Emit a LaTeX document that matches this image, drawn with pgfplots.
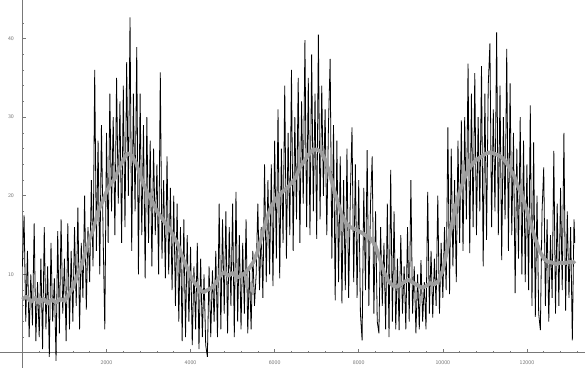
\documentclass[border=0pt]{standalone}
\usepackage{pgfplots}
\pgfplotsset{compat=1.18}
\definecolor{smoothgray}{RGB}{158,158,158}
\definecolor{axisgray}{RGB}{120,120,120}
\begin{document}
\begin{tikzpicture}
\begin{axis}[
  scale only axis,
  width=585pt, height=368pt,
  xmin=-522, xmax=13371, ymin=-1.9, ymax=44.85,
  axis lines=middle,
  axis line style={-, draw=axisgray, line width=0.9pt},
  tick align=inside,
  major tick length=4pt, minor tick length=2pt,
  every tick/.style={axisgray, line width=0.6pt},
  xtick={2000,4000,6000,8000,10000,12000},
  minor xtick={400,800,...,13200},
  ytick={10,20,30,40},
  minor ytick={2,4,...,42},
  scaled x ticks=false,
  xticklabel style={font=\fontsize{5.5}{6}\selectfont\sffamily, text=black!55, yshift=-4pt, /pgf/number format/1000 sep={}},
  yticklabel style={font=\fontsize{5.5}{6}\selectfont\sffamily, text=black!55, xshift=-5pt},
  /pgf/number format/assume math mode=true,
  clip=true,
]
\addplot[black, line width=0.8pt] coordinates {
(0,11)(40,17.5)(80,4)(120,13)(160,2)(200,10)(240,3.5)(280,16.5)(320,1.5)(360,9)
(400,2)(440,12)(480,0.5)(520,16)(560,3)(600,11)(640,-0.5)(680,14)(720,4)(760,9.5)
(800,-1)(840,15.5)(880,2.5)(920,17)(960,5)(1000,12)(1040,1.5)(1080,16.5)(1120,3)(1160,13)
(1200,4)(1240,16)(1280,6)(1320,18.5)(1360,3)(1400,14)(1440,7)(1480,20)(1520,5.5)(1560,16)
(1600,9)(1640,22)(1680,11)(1720,36)(1760,13)(1800,27)(1840,10)(1880,29)(1920,15)(1960,3)
(2000,28)(2040,14)(2080,33)(2120,18)(2160,30)(2200,15)(2240,35)(2280,19)(2320,32)(2360,14)
(2400,34)(2440,16)(2480,37)(2520,20)(2560,42.7)(2600,13)(2640,33)(2680,18)(2720,38.9)(2760,10)
(2800,33)(2840,15)(2880,29)(2920,9.5)(2960,30)(3000,14)(3040,27)(3080,11)(3120,26)(3160,15)
(3200,24)(3240,10)(3280,35.7)(3320,12)(3360,22)(3400,9.5)(3440,25)(3480,10)(3520,21)(3560,8)
(3600,20)(3640,6)(3680,19)(3720,4)(3760,16)(3800,1.5)(3840,17)(3880,2)(3920,15)(3960,4)
(4000,13.5)(4040,1)(4080,11)(4120,3)(4160,14)(4200,0.5)(4240,12)(4280,2)(4320,10)(4360,1)
(4400,-0.5)(4440,11)(4480,2)(4520,10.5)(4560,4)(4600,13)(4640,2)(4680,19)(4720,3)(4760,17)
(4800,5)(4840,18)(4880,2.5)(4920,16)(4960,6)(5000,19)(5040,2)(5080,20.5)(5120,4)(5160,15)
(5200,3)(5240,14)(5280,5)(5320,17)(5360,2.5)(5400,11)(5440,3)(5480,13)(5520,6)(5560,10)
(5600,19)(5640,8)(5680,16)(5720,7)(5760,24)(5800,9)(5840,22)(5880,10)(5920,24)(5960,8.5)
(6000,27)(6040,12)(6080,31)(6120,9.5)(6160,26)(6200,14)(6240,34)(6280,12)(6320,28)(6360,15)
(6400,36)(6440,13)(6480,30)(6520,17)(6560,35)(6600,14)(6640,32)(6680,19)(6720,39.8)(6760,16)
(6800,35)(6840,15)(6880,38)(6920,18)(6960,33)(7000,14.5)(7040,40.5)(7080,17)(7120,34)(7160,20)
(7200,31)(7240,15)(7280,29)(7320,37.4)(7360,12)(7400,29)(7440,6.7)(7480,27)(7520,9)(7560,25)
(7600,6.3)(7640,22)(7680,8)(7720,26)(7760,7)(7800,20)(7840,28.7)(7880,9)(7920,24)(7960,7)
(8000,22)(8040,5)(8080,1.6)(8120,21)(8160,8)(8200,25.8)(8240,6)(8280,19)(8320,25)(8360,5)
(8400,18)(8440,4)(8480,2.5)(8520,16)(8560,6)(8600,14)(8640,3)(8680,19)(8720,2)(8760,23.3)
(8800,4)(8840,18)(8880,3)(8920,12)(8960,2.9)(9000,15)(9040,5)(9080,11)(9120,3)(9160,16)
(9200,4)(9240,22)(9280,5)(9320,11)(9360,2.5)(9400,10)(9440,3)(9480,11.8)(9520,4)(9560,9)
(9600,3)(9640,20.5)(9680,5)(9720,13)(9760,4.5)(9800,12)(9840,6)(9880,20)(9920,5)(9960,14)
(10000,7)(10040,16)(10080,8)(10120,28.7)(10160,7.5)(10200,26)(10240,11)(10280,22)(10320,9)(10360,27)
(10400,14)(10440,29.6)(10480,13)(10520,30)(10560,17)(10600,36.8)(10640,12.7)(10680,33)(10720,16)(10760,35.6)
(10800,15)(10840,30)(10880,18)(10920,36.5)(10960,11)(11000,33)(11040,14.4)(11080,34)(11120,39.4)(11160,16)
(11200,31)(11240,18)(11280,40.8)(11320,15)(11360,34)(11400,11.8)(11440,30)(11480,17)(11520,38.7)(11560,13)
(11600,34.3)(11640,15)(11680,28)(11720,7.6)(11760,26)(11800,12)(11840,30)(11880,10)(11920,27)(11960,9)
(12000,24)(12040,8)(12080,31.5)(12120,6)(12160,26.8)(12200,4.6)(12240,20)(12280,5)(12320,2.9)(12360,18)
(12400,23.6)(12440,6)(12480,17)(12520,4)(12560,15)(12600,7)(12640,25.7)(12680,5)(12720,19)(12760,6)
(12800,21)(12840,8)(12880,28)(12920,5.4)(12960,18)(13000,7)(13040,16)(13080,1.6)(13120,17)(13140,14)
};
\addplot[draw=smoothgray, line width=3.8pt, line join=round] coordinates {
(0,6.8)(100,7.2)(200,6.5)(300,7.0)(400,6.4)(500,6.9)(600,6.3)(700,6.8)(800,6.4)(900,6.9)
(1000,6.6)(1100,7.4)(1200,8.3)(1300,9.8)(1400,11)(1500,12.8)(1600,14.5)(1700,16)(1800,18)(1900,19.2)
(2000,20.5)(2100,21.5)(2200,22.2)(2300,23.5)(2400,24.6)(2500,25.4)(2600,25.1)(2700,24.2)(2800,22.6)(2900,21.2)
(3000,20.1)(3100,19.2)(3200,18)(3300,17.3)(3400,16.5)(3500,15.8)(3600,14.8)(3700,13.8)(3800,12.3)(3900,11)
(4000,9.8)(4100,8.9)(4200,8.3)(4300,7.7)(4400,8)(4500,8.3)(4600,8.9)(4700,9.8)(4800,10.3)(4900,9.8)
(5000,10.2)(5100,9.6)(5200,9.8)(5300,10.2)(5400,10.8)(5500,11.6)(5600,13)(5700,15)(5800,16.8)(5900,18.4)
(6000,19.4)(6100,20)(6200,20.6)(6300,21)(6400,21.6)(6500,22.3)(6600,23.6)(6700,24.4)(6800,25.2)(6900,25.8)
(7000,25.9)(7100,25.6)(7200,24.6)(7300,23)(7400,21)(7500,19.2)(7600,17.5)(7700,16.5)(7800,16)(7900,15.8)
(8000,15.5)(8100,15.2)(8200,14.8)(8300,14.5)(8400,13.6)(8500,12)(8600,10.3)(8700,9.2)(8800,8.6)(8900,8.4)
(9000,8.7)(9100,9.1)(9200,9.3)(9300,8.9)(9400,8.6)(9500,8.3)(9600,8.5)(9700,8.9)(9800,8.7)(9900,9.2)
(10000,10.5)(10100,13)(10200,16)(10300,18.6)(10400,20.5)(10500,22)(10600,23.3)(10700,24)(10800,24.6)(10900,24.9)
(11000,25.3)(11100,25.5)(11200,25.4)(11300,25.2)(11400,24.9)(11500,24.3)(11600,23.4)(11700,22.5)(11800,21)(11900,19.8)
(12000,18)(12100,16.3)(12200,14.5)(12300,13)(12400,12)(12500,11.6)(12600,11.5)(12700,11.3)(12800,11.5)(12900,11.4)
(13000,11.6)(13100,11.5)(13140,11.7)
};
\end{axis}
\end{tikzpicture}
\end{document}
